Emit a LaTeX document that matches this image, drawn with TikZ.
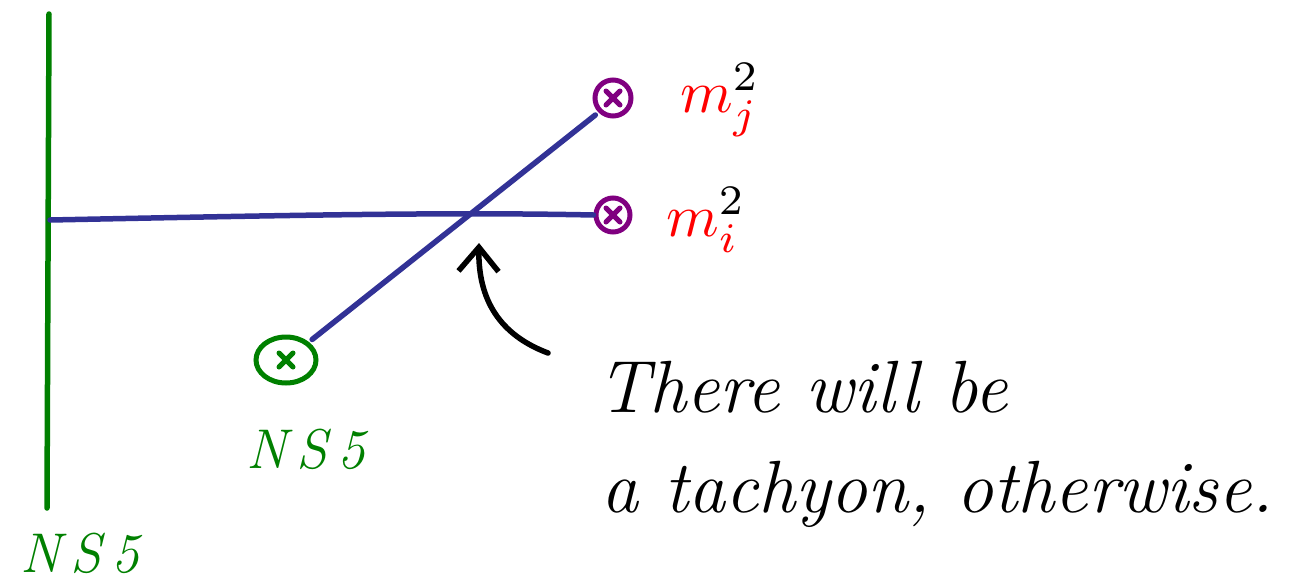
\documentclass[tikz,border=0pt]{standalone}
\usetikzlibrary{arrows.meta,shapes.geometric}
\definecolor{nsgreen}{RGB}{0,128,0}
\definecolor{dblue}{RGB}{50,50,150}
\definecolor{dpurple}{RGB}{128,0,128}
\definecolor{mred}{RGB}{255,0,0}
\tikzset{
  stroke/.style={line width=5.5pt, line cap=round},
  cross/.style={draw=#1, line width=5pt, inner sep=0pt,
    path picture={\draw[#1, line width=5pt, line cap=round]
      (path picture bounding box.center) ++(-7,-7) -- ++(14,14)
      (path picture bounding box.center) ++(-7,7) -- ++(14,-14);}},
  lbl/.style={font=\fontsize{#1}{#1}\selectfont\itshape},
  nslbl/.style={text=nsgreen, font=\fontsize{56}{56}\selectfont\itshape},
  mlbl/.style={anchor=west, inner sep=0pt},
}
\begin{document}
\begin{tikzpicture}[x=1pt,y=-1pt]
\useasboundingbox (0,0) rectangle (1316,581);
% vertical NS5
\coordinate (vtop) at (49,14);
\coordinate (vbot) at (47,508);
\coordinate (vmid) at (50,220);
\draw[stroke, nsgreen] (vtop) -- (vbot);
\node[nslbl] (nsleft) at (80,553) {N\,S\,5};
% purple D-brane ends
\node[circle, cross=dpurple, minimum size=36pt] (pj) at (613,98) {};
\node[circle, cross=dpurple, minimum size=34pt] (pi) at (613,215) {};
% green NS5 circled cross
\node[ellipse, cross=nsgreen, minimum width=60pt, minimum height=46pt] (ns) at (286,360) {};
\node[nslbl] (nsbot) at (306,449) {N\,S\,5};
% branes
\draw[stroke, dblue] (vmid) .. controls (300,215) and (450,212) .. (pi.west);
\draw[stroke, dblue, shorten <=4pt, shorten >=4pt] (ns.north east) -- (pj.south west);
% labels
\node[mlbl] (mj) at (680,100) {\scalebox{6}{$\textcolor{mred}{m}^{2}_{\textcolor{mred}{j}}$}};
\node[mlbl] (mi) at (666,220) {\scalebox{6}{$\textcolor{mred}{m}^{2}_{\textcolor{mred}{i}}$}};
% arrow
\coordinate (tail) at (548,353);
\coordinate (tip) at (479,243);
\draw[stroke, black, -{Straight Barb[length=24pt,width=40pt,line width=5.5pt]}] (tail) .. controls (500,335) and (478,300) .. (tip);
% text
\node[lbl=74, anchor=base west] (t1) at (594,412) {There will be};
\node[lbl=74, anchor=base west] (t2) at (598,512) {a tachyon, otherwise.};
\end{tikzpicture}
\end{document}
